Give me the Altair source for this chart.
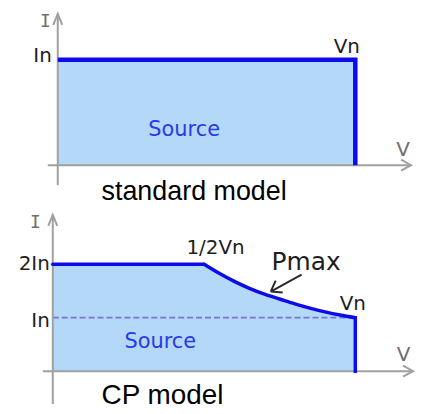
import altair as alt
import pandas as pd

# ---------------- data (units of In and Vn) ----------------
STD_V = [0.0, 1.0, 1.0]          # standard model outline
STD_I = [1.0, 1.0, 0.0]
STD_ORDER = [0, 1, 2]

CP_FLAT_V = [0.0, 0.5]           # CP model: constant-current part
CP_FLAT_I = [2.0, 2.0]
CP_CURVE_V = [0.5, 0.55, 0.6, 0.65, 0.7, 0.75, 0.8, 0.85, 0.9, 0.95, 1.0]   # Pmax part
CP_CURVE_I = [2.0, 1.83, 1.68, 1.55, 1.44, 1.35, 1.26, 1.18, 1.11, 1.05, 1.0]

STD_Y_TICKS = [1.0]
STD_Y_LABELS = ["In"]
CP_Y_TICKS = [2.0, 1.0]
CP_Y_LABELS = ["2In", "In"]
CP_DASH_V = [0.0, 1.0]
CP_DASH_I = [1.0, 1.0]

# ---------------- styles ----------------
W, H = 409, 199
FILL = "#b4d8f8"
BLUE = "#0c0cea"
SRC_BLUE = "#2a3ae6"
AXIS = "#a0a0a0"
DARK = "#1e1e1e"
GREY = "#6e6e6e"
FONT = "DejaVu Sans"
TITLE_FONT = "Liberation Sans"


def x_scale(p0, p1):
    k = p1 - p0
    return alt.Scale(domain=[-p0 / k, (W - p0) / k], nice=False, zero=False)


def y_scale(p0, val, p1):
    k = (p0 - p1) / val
    d0 = -(H - p0) / k
    return alt.Scale(domain=[d0, d0 + H / k], nice=False, zero=False)


def panel(xs, ys, outline_layers, area_df, ylab_df, ylab_dx, ylab_dys,
          axis_y_top, axis_y_bot, axis_x_left, axis_x_right,
          i_lbl, v_lbl, src_pos, extra, title, title_pos, title_size):
    X = alt.X("v:Q", scale=xs, axis=None)
    Y = alt.Y("i:Q", scale=ys, axis=None)
    zero_v = pd.DataFrame({"v": [0.0]})
    zero_i = pd.DataFrame({"i": [0.0]})

    area = alt.Chart(area_df).mark_area(color=FILL, opacity=1).encode(
        x=X, y=Y, y2=alt.datum(0))

    yaxis = alt.Chart(zero_v).mark_rule(color=AXIS, strokeWidth=2).encode(
        x=X, y=alt.value(axis_y_top), y2=alt.value(axis_y_bot))
    xaxis = alt.Chart(zero_i).mark_rule(color=AXIS, strokeWidth=2).encode(
        y=Y, x=alt.value(axis_x_left), x2=alt.value(axis_x_right))
    yarrow = alt.Chart(zero_v).mark_point(
        shape="M-4.5,11L0,0L4.5,11", size=4, filled=False, stroke=AXIS,
        strokeWidth=2, opacity=1).encode(x=X, y=alt.value(axis_y_top))
    xarrow = alt.Chart(zero_i).mark_point(
        shape="M-10,-5.5L0,0L-10,5.5", size=4, filled=False, stroke=AXIS,
        strokeWidth=2, opacity=1).encode(y=Y, x=alt.value(axis_x_right))

    ylabels = []
    for k, row in ylab_df.iterrows():
        ylabels.append(
            alt.Chart(ylab_df.iloc[[k]]).mark_text(
                align="right", baseline="middle", dx=ylab_dx, dy=ylab_dys[k],
                font=FONT, fontSize=20, color=DARK).encode(
                x=alt.datum(0, scale=xs), y=Y, text="lab:N"))

    i_text = alt.Chart(pd.DataFrame({"t": ["I"]})).mark_text(
        font="DejaVu Sans Mono", fontSize=18, color=GREY, baseline="middle", align="center").encode(
        x=alt.value(i_lbl[0]), y=alt.value(i_lbl[1]), text="t:N")
    v_text = alt.Chart(pd.DataFrame({"t": ["V"]})).mark_text(
        font=FONT, fontSize=20, color=GREY, baseline="middle", align="center").encode(
        x=alt.value(v_lbl[0]), y=alt.value(v_lbl[1]), text="t:N")
    src = alt.Chart(pd.DataFrame({"t": ["Source"]})).mark_text(
        font=FONT, fontSize=21, color=SRC_BLUE, baseline="middle", align="center").encode(
        x=alt.value(src_pos[0]), y=alt.value(src_pos[1]), text="t:N")
    ttl = alt.Chart(pd.DataFrame({"t": [title]})).mark_text(
        font=TITLE_FONT, fontSize=title_size, color="#000000", baseline="alphabetic",
        align="left").encode(
        x=alt.value(title_pos[0]), y=alt.value(title_pos[1]), text="t:N")

    layers = [area] + extra(X, Y) + [yaxis, xaxis, yarrow, xarrow] + \
        outline_layers(X, Y) + ylabels + [i_text, v_text, src, ttl]
    return alt.layer(*layers).properties(width=W, height=H)


# ---------------- standard model ----------------
xs1 = x_scale(50, 349)
ys1 = y_scale(157, 1.0, 51)
std_df = pd.DataFrame({"v": STD_V, "i": STD_I, "k": STD_ORDER})
std_area = pd.DataFrame({"v": STD_V[:2], "i": STD_I[:2]})


def std_outline(X, Y):
    line = alt.Chart(std_df).mark_line(
        color=BLUE, strokeWidth=4.5, strokeJoin="miter", strokeCap="butt").encode(
        x=X, y=Y, order="k:Q")
    vn = alt.Chart(std_df.iloc[[1]]).mark_text(
        font=FONT, fontSize=20, color=DARK, dx=-8.5, dy=-12.5, baseline="middle").encode(
        x=X, y=Y, text=alt.value("Vn"))
    return [line, vn]


top = panel(
    xs1, ys1, std_outline, std_area,
    pd.DataFrame({"i": STD_Y_TICKS, "lab": STD_Y_LABELS}), -6, [-3.5],
    5, 177, 40, 405,
    (37.5, 13), (397, 141.5), (177, 121.5),
    lambda X, Y: [],
    "standard model", (94, 192), 27)

# ---------------- CP model ----------------
xs2 = x_scale(45, 349)
ys2 = y_scale(165, 2.0, 57.5)
flat_df = pd.DataFrame({"v": CP_FLAT_V, "i": CP_FLAT_I})
curve_df = pd.DataFrame({"v": CP_CURVE_V, "i": CP_CURVE_I})
cp_area = pd.DataFrame({"v": CP_FLAT_V[:1] + CP_CURVE_V, "i": CP_FLAT_I[:1] + CP_CURVE_I})
dash_df = pd.DataFrame({"v": CP_DASH_V, "i": CP_DASH_I})


def cp_extra(X, Y):
    dash = alt.Chart(dash_df).mark_line(
        color="#7676d0", strokeWidth=1.7, strokeDash=[6, 3]).encode(x=X, y=Y)
    return [dash]


def cp_outline(X, Y):
    flat = alt.Chart(flat_df).mark_line(
        color=BLUE, strokeWidth=3.5, strokeCap="round").encode(x=X, y=Y)
    curve = alt.Chart(curve_df).mark_line(
        color=BLUE, strokeWidth=3.5, strokeCap="round", interpolate="monotone").encode(x=X, y=Y)
    end = curve_df.iloc[[-1]]
    vert = alt.Chart(end).mark_rule(
        color=BLUE, strokeWidth=3.5, strokeCap="square").encode(
        x=X, y=Y, y2=alt.datum(0))
    half = alt.Chart(flat_df.iloc[[1]]).mark_text(
        font=FONT, fontSize=20, color=DARK, dx=11.5, dy=-16.5, baseline="middle").encode(
        x=X, y=Y, text=alt.value("1/2Vn"))
    vn = alt.Chart(end).mark_text(
        font=FONT, fontSize=20, color=DARK, dx=-2.5, dy=-14, baseline="middle").encode(
        x=X, y=Y, text=alt.value("Vn"))
    pmax = alt.Chart(pd.DataFrame({"t": ["Pmax"]})).mark_text(
        font=FONT, fontSize=25, color=DARK, baseline="middle", align="center").encode(
        x=alt.value(299.5), y=alt.value(55.5), text="t:N")
    arrow = alt.Chart(pd.DataFrame({"t": ["arrow"]})).mark_point(
        shape="M0,0L31,-17M0,0L5,-11M0,0L12,1", size=4, filled=False,
        stroke="#2a2a2a", strokeWidth=2, opacity=1).encode(
        x=alt.value(264), y=alt.value(85))
    return [flat, curve, vert, half, vn, pmax, arrow]


bottom = panel(
    xs2, ys2, cp_outline, cp_area,
    pd.DataFrame({"i": CP_Y_TICKS, "lab": CP_Y_LABELS}), -3, [0, 3.75],
    8, 198, 35, 407,
    (27.5, 16), (397.5, 148.5), (153, 135.5),
    cp_extra,
    "CP model", (94, 198), 28)

chart = alt.vconcat(top, bottom, spacing=0, bounds="flush").properties(
    padding=0, background="white"
).configure_view(stroke=None)

chart.save("out.html", embed_options={"renderer": "svg", "actions": False})
